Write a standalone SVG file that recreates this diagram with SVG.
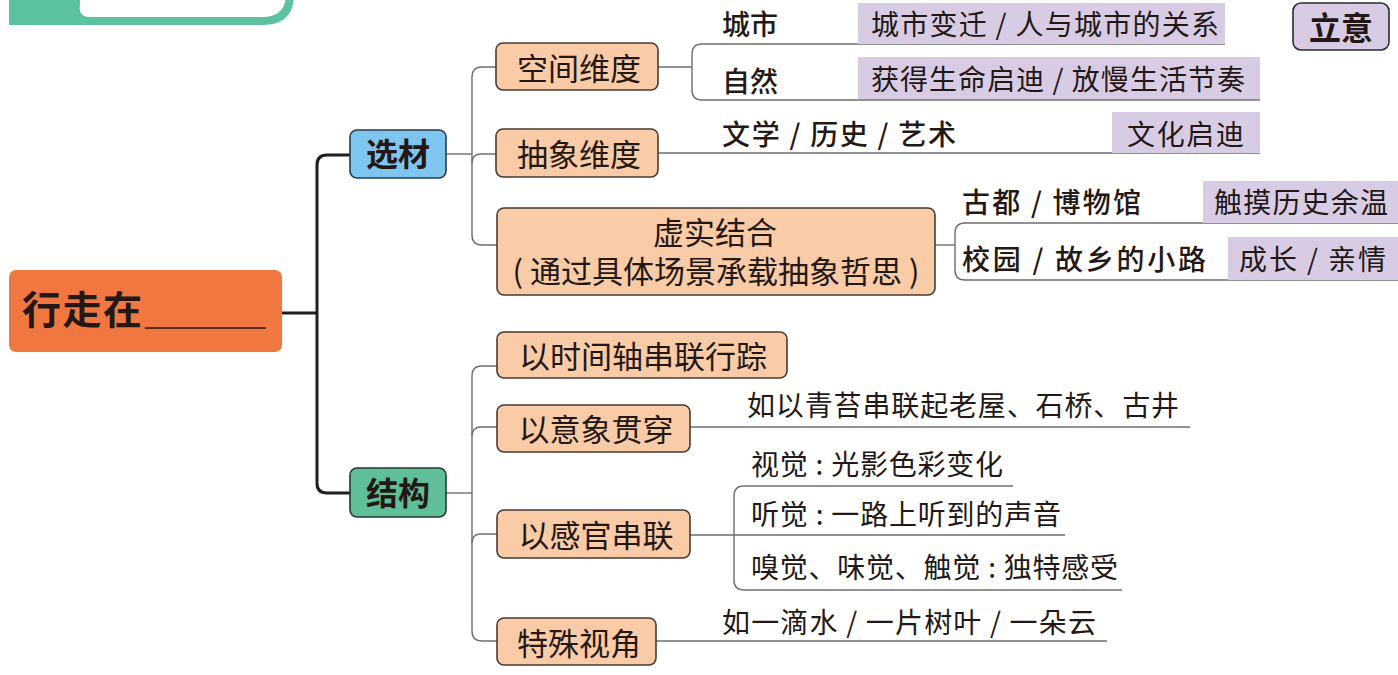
<svg xmlns="http://www.w3.org/2000/svg" width="1398" height="675" viewBox="0 0 1398 675">
<style>
text{font-family:"Noto Sans CJK SC","Noto Sans",sans-serif;fill:#231815}
.n{fill:#F9CBA6;stroke:#4a3a32;stroke-width:1.6}
.t1{font-size:31px}
.t3{font-size:28px}
.b{font-weight:700}
.m{font-weight:500}
.p{fill:#D8CCE5}
.c{fill:none;stroke:#6e6e6e;stroke-width:1.4}
.c0{fill:none;stroke:#1e1e1e;stroke-width:3}
</style>
<rect width="1398" height="675" fill="#fff"/>
<g id="corner">
<path d="M9,-40 H260 Q294,-40 294,-6 V-6 Q294,25 263,25 H9 Z" fill="#5CC29E"/>
<path d="M90,-40 H260 Q286,-40 286,-14 V-6 Q286,17 262,17 H90 Q78,17 80,5 V-40 Z" fill="#fff"/>
</g>
<g id="connectors">
<path class="c0" d="M282,313 H317"/>
<path class="c0" d="M350,155 H327 Q317,155 317,165 V483 Q317,493 327,493 H350"/>
<path class="c" d="M446,154 H472"/>
<path class="c" d="M497,67 H482 Q472,67 472,77 V235 Q472,245 482,245 H497"/>
<path class="c" d="M472,163 Q472,154 481,154 H497"/>
<path class="c" d="M446,493 H472"/>
<path class="c" d="M497,366 H482 Q472,366 472,376 V631 Q472,641 482,641 H497"/>
<path class="c" d="M472,436 Q472,427 481,427 H497"/>
<path class="c" d="M472,543 Q472,534 481,534 H497"/>
<path class="c" d="M658,67 H692"/>
<path class="c" d="M1225,44 H702 Q692,44 692,54 V90 Q692,100 702,100 H1260"/>
<path class="c" d="M658,153 H1260"/>
<path class="c" d="M935,245 H955"/>
<path class="c" d="M1398,223 H965 Q955,223 955,233 V270 Q955,280 965,280 H1398"/>
<path class="c" d="M690,427 H1190"/>
<path class="c" d="M690,535 H1065"/>
<path class="c" d="M1013,486 H744 Q734,486 734,496 V580 Q734,590 744,590 H1122"/>
<path class="c" d="M656,641 H1107"/>
</g>
<g id="root">
<rect x="9" y="270" width="273" height="82" rx="7" fill="#F0773F"/>
<text x="22" y="324" font-size="39" class="b" textLength="120">行走在</text>
<line x1="145" y1="328" x2="266" y2="328" stroke="#231815" stroke-width="1.5"/>
</g>
<g id="xuancai">
<rect x="350" y="130" width="96" height="48" rx="7" fill="#7EC6EF" stroke="#2a3a44" stroke-width="1.6"/>
<text x="398" y="166" font-size="32" class="b" text-anchor="middle">选材</text>
</g>
<g id="jiegou">
<rect x="350" y="468" width="96" height="49" rx="7" fill="#5EBF98" stroke="#233a30" stroke-width="1.6"/>
<text x="398" y="505" font-size="32" class="b" text-anchor="middle">结构</text>
</g>
<g id="liyi">
<rect x="1293" y="3" width="96" height="47" rx="8" fill="#D8CCE5" stroke="#2d2a30" stroke-width="1.6"/>
<text x="1341" y="40" font-size="32" class="b" text-anchor="middle">立意</text>
</g>
<g id="kongjian">
<rect class="n" x="496" y="43" width="162" height="47" rx="7"/>
<text class="t1" x="579" y="80" text-anchor="middle">空间维度</text>
</g>
<g id="chouxiang">
<rect class="n" x="496" y="129" width="162" height="48" rx="7"/>
<text class="t1" x="579" y="166" text-anchor="middle">抽象维度</text>
</g>
<g id="xushi">
<rect class="n" x="497" y="208" width="438" height="87" rx="7"/>
<text class="t1" text-anchor="middle"><tspan x="715" y="244">虚实结合</tspan><tspan x="716" y="283">( 通过具体场景承载抽象哲思 )</tspan></text>
</g>
<g id="chengshi">
<text class="t3 m" x="722" y="35">城市</text>
<rect class="p" x="858" y="3" width="367" height="41"/>
<text class="t3" x="871" y="35" textLength="348">城市变迁 / 人与城市的关系</text>
</g>
<g id="ziran">
<text class="t3 m" x="722" y="92">自然</text>
<rect class="p" x="858" y="57" width="402" height="42"/>
<text class="t3" x="871" y="90" textLength="374">获得生命启迪 / 放慢生活节奏</text>
</g>
<g id="wenxue">
<text class="t3 m" x="722" y="145" textLength="234">文学 / 历史 / 艺术</text>
<rect class="p" x="1112" y="112" width="148" height="41"/>
<text class="t3" x="1127" y="145" textLength="117">文化启迪</text>
</g>
<g id="gudu">
<text class="t3 m" x="962" y="213" textLength="179">古都 / 博物馆</text>
<rect class="p" x="1203" y="181" width="195" height="42"/>
<text class="t3" x="1214" y="213" textLength="174">触摸历史余温</text>
</g>
<g id="xiaoyuan">
<text class="t3 m" x="962" y="270" textLength="244">校园 / 故乡的小路</text>
<rect class="p" x="1228" y="237" width="170" height="43"/>
<text class="t3" x="1239" y="270" textLength="147">成长 / 亲情</text>
</g>
<g id="shijianzhou">
<rect class="n" x="497" y="332" width="290" height="46" rx="7"/>
<text class="t1" x="643" y="368" text-anchor="middle">以时间轴串联行踪</text>
</g>
<g id="yixiang">
<rect class="n" x="497" y="405" width="193" height="47" rx="7"/>
<text class="t1" x="596" y="441" text-anchor="middle">以意象贯穿</text>
</g>
<g id="ganguan">
<rect class="n" x="497" y="510" width="193" height="48" rx="7"/>
<text class="t1" x="596" y="547" text-anchor="middle">以感官串联</text>
</g>
<g id="teshu">
<rect class="n" x="497" y="618" width="159" height="47" rx="7"/>
<text class="t1" x="579" y="655" text-anchor="middle">特殊视角</text>
</g>
<g id="qingtai">
<text class="t3" x="747" y="416" textLength="432">如以青苔串联起老屋、石桥、古井</text>
</g>
<g id="shijue">
<text class="t3" x="751" y="475" textLength="252">视觉 : 光影色彩变化</text>
</g>
<g id="tingjue">
<text class="t3" x="751" y="525" textLength="310">听觉 : 一路上听到的声音</text>
</g>
<g id="xiujue">
<text class="t3" x="751" y="578" textLength="367">嗅觉、味觉、触觉 : 独特感受</text>
</g>
<g id="yidishui">
<text class="t3" x="722" y="633" textLength="374">如一滴水 / 一片树叶 / 一朵云</text>
</g>
</svg>
